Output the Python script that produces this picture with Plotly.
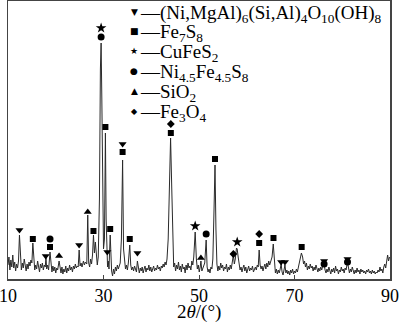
import plotly.graph_objects as go

# ---- XRD scan (2theta in degrees, intensity in arbitrary units) ----
scan_2theta = [
    10.0, 10.2, 10.4, 10.6, 10.8, 11.0, 11.2, 11.4, 11.6, 11.8,
    12.0, 12.2, 12.4, 12.6, 12.8, 13.0, 13.2, 13.4, 13.6, 13.8,
    14.0, 14.2, 14.4, 14.6, 14.8, 15.0, 15.2, 15.4, 15.6, 15.8,
    16.0, 16.2, 16.4, 16.6, 16.8, 17.0, 17.2, 17.4, 17.6, 17.8,
    17.95, 18.1, 18.3, 18.5, 18.8, 19.0, 19.2, 19.4, 19.6, 19.8,
    20.0, 20.2, 20.4, 20.7, 20.9, 21.1, 21.3, 21.5, 21.7, 21.9,
    22.1, 22.3, 22.5, 22.7, 22.9, 23.1, 23.3, 23.5, 23.7, 23.9,
    24.1, 24.3, 24.5, 24.7, 24.9, 25.1, 25.3, 25.5, 25.8, 26.0,
    26.2, 26.5, 26.7, 26.9, 27.1, 27.3, 27.5, 27.7, 27.9, 28.1,
    28.3, 28.5, 28.7, 28.9, 29.15, 29.35, 29.5, 29.65, 29.85, 30.0,
    30.2, 30.4, 30.55, 30.7, 30.85, 31.0, 31.15, 31.4, 31.55, 31.7,
    31.9, 32.1, 32.3, 32.5, 32.7, 32.9, 33.1, 33.3, 33.5, 33.75,
    34.0, 34.2, 34.4, 34.6, 34.8, 35.0, 35.2, 35.5, 35.7, 35.9,
    36.1, 36.3, 36.5, 36.7, 36.9, 37.1, 37.3, 37.5, 37.7, 37.9,
    38.1, 38.3, 38.5, 38.7, 38.9, 39.1, 39.3, 39.5, 39.7, 39.9,
    40.1, 40.3, 40.5, 40.7, 40.9, 41.1, 41.3, 41.5, 41.7, 41.9,
    42.1, 42.3, 42.5, 42.7, 42.9, 43.1, 43.3, 43.55, 43.8, 44.05,
    44.3, 44.5, 44.7, 44.9, 45.1, 45.3, 45.5, 45.7, 45.9, 46.1,
    46.3, 46.5, 46.7, 46.9, 47.1, 47.3, 47.5, 47.7, 47.9, 48.1,
    48.3, 48.5, 48.7, 48.9, 49.2, 49.45, 49.65, 49.85, 50.05, 50.25,
    50.4, 50.6, 50.8, 51.0, 51.2, 51.5, 51.7, 51.9, 52.1, 52.3,
    52.5, 52.7, 52.9, 53.15, 53.35, 53.55, 53.75, 53.95, 54.15, 54.35,
    54.55, 54.75, 54.95, 55.15, 55.35, 55.55, 55.75, 55.95, 56.15, 56.35,
    56.55, 56.75, 56.95, 57.2, 57.4, 57.6, 57.85, 58.0, 58.2, 58.4,
    58.6, 58.8, 59.0, 59.2, 59.4, 59.6, 59.8, 60.0, 60.2, 60.4,
    60.6, 60.8, 61.0, 61.2, 61.4, 61.6, 61.8, 62.0, 62.2, 62.4,
    62.6, 62.8, 63.0, 63.2, 63.4, 63.6, 63.8, 64.0, 64.2, 64.4,
    64.6, 64.8, 65.0, 65.3, 65.55, 65.8, 66.0, 66.2, 66.4, 66.6,
    66.8, 67.0, 67.2, 67.4, 67.6, 67.8, 68.0, 68.2, 68.4, 68.6,
    68.8, 69.0, 69.2, 69.4, 69.6, 69.8, 70.0, 70.2, 70.4, 70.6,
    70.8, 71.0, 71.2, 71.45, 71.7, 71.9, 72.1, 72.3, 72.5, 72.7,
    72.9, 73.1, 73.3, 73.5, 73.7, 73.9, 74.1, 74.3, 74.5, 74.7,
    74.9, 75.1, 75.3, 75.5, 75.7, 75.9, 76.2, 76.4, 76.6, 76.8,
    77.0, 77.2, 77.4, 77.6, 77.8, 78.0, 78.2, 78.4, 78.6, 78.8,
    79.0, 79.2, 79.4, 79.6, 79.8, 80.0, 80.2, 80.4, 80.6, 80.8,
    81.1, 81.3, 81.5, 81.7, 81.9, 82.1, 82.3, 82.5, 82.7, 82.9,
    83.1, 83.3, 83.5, 83.7, 83.9, 84.1, 84.3, 84.5, 84.7, 84.9,
    85.1, 85.3, 85.5, 85.7, 85.9, 86.1, 86.3, 86.5, 86.7, 86.9,
    87.1, 87.3, 87.5, 87.7, 87.9, 88.1, 88.3, 88.5, 88.7, 88.9,
    89.1, 89.3, 89.5, 89.7, 89.9,
]
scan_intensity = [
    14, 22, 9, 19, 12, 24, 11, 17, 8, 15,
    11, 18, 44, 17, 9, 16, 11, 20, 12, 8,
    15, 10, 17, 13, 19, 16, 36, 15, 9, 14,
    10, 18, 12, 7, 15, 11, 16, 9, 14, 12,
    22, 10, 14, 9, 27, 12, 7, 13, 8, 12,
    6, 11, 9, 18, 10, 6, 12, 5, 10, 7,
    13, 6, 11, 8, 14, 9, 12, 7, 13, 10,
    15, 11, 13, 12, 29, 13, 16, 12, 18, 14,
    17, 15, 64, 16, 12, 20, 15, 24, 44, 26,
    37, 18, 14, 22, 80, 210, 236, 180, 60, 30,
    40, 146, 60, 22, 12, 18, 10, 44, 12, 8,
    3, 10, 5, 12, 8, 14, 10, 13, 16, 40,
    119, 30, 15, 10, 14, 9, 16, 34, 14, 9,
    12, 8, 13, 10, 7, 18, 10, 6, 11, 8,
    12, 6, 10, 13, 7, 11, 9, 14, 8, 12,
    7, 10, 13, 8, 11, 9, 14, 10, 12, 8,
    13, 11, 15, 12, 17, 14, 20, 40, 100, 141,
    90, 30, 12, 16, 8, 14, 10, 17, 9, 13,
    7, 15, 10, 12, 6, 14, 9, 16, 11, 13,
    9, 18, 14, 22, 47, 20, 10, 14, 7, 12,
    18, 8, 11, 14, 16, 39, 12, 7, 10, 6,
    12, 10, 20, 70, 114, 50, 15, 8, 13, 9,
    16, 11, 14, 8, 12, 10, 15, 7, 12, 9,
    14, 10, 16, 24, 15, 20, 31, 30, 22, 14,
    9, 12, 7, 11, 14, 8, 12, 6, 10, 13,
    8, 11, 9, 13, 7, 10, 12, 9, 14, 12,
    29, 14, 10, 13, 8, 12, 15, 10, 16, 12,
    18, 14, 17, 22, 35, 14, 6, 10, 5, 9,
    6, 10, 15, 7, 4, 9, 14, 6, 9, 5,
    8, 4, 9, 6, 10, 5, 8, 6, 10, 7,
    12, 14, 20, 26, 22, 15, 18, 12, 16, 9,
    13, 10, 15, 11, 13, 8, 12, 9, 14, 10,
    7, 11, 8, 12, 9, 13, 15, 9, 6, 10,
    7, 12, 8, 5, 10, 7, 11, 6, 13, 8,
    10, 5, 9, 7, 12, 8, 10, 6, 11, 9,
    17, 9, 6, 10, 7, 12, 8, 5, 9, 6,
    11, 7, 9, 5, 10, 7, 9, 6, 8, 5,
    9, 7, 10, 6, 8, 5, 9, 6, 8, 5,
    7, 6, 9, 7, 12, 8, 10, 6, 12, 15,
    11, 20, 24, 18, 22,
]
assert len(scan_2theta) == len(scan_intensity)

# ---- phase markers (2theta, marker height) ----
chlorite_2theta = [12.4, 17.9, 24.9, 30.8, 34.0, 37.1, 67.2, 68.0, 76.2, 81.1]
chlorite_height = [49, 23, 34, 27, 135, 26, 17, 17, 18, 20]
fe7s8_2theta = [15.2, 18.8, 27.9, 30.4, 31.4, 34.0, 35.5, 44.1, 53.35, 62.6, 65.6, 71.5]
fe7s8_height = [40, 32, 48, 152, 50, 127, 40, 146, 120, 36, 41, 32]
cufes2_2theta = [29.5, 49.2, 58.0]
cufes2_height = [251, 53, 37]
pentlandite_2theta = [18.8, 29.5, 51.5, 76.2, 81.1]
pentlandite_height = [40, 242, 45, 15, 17]
sio2_2theta = [20.7, 26.7, 50.4]
sio2_height = [23, 67, 21]
fe3o4_2theta = [44.1, 57.2, 62.6]
fe3o4_height = [155, 25, 45]

phase_symbols = ["triangle-down", "square", "star", "circle", "triangle-up", "diamond"]
phase_sizes = [7, 6, 8, 7, 7, 6]
legend_glyphs = ["▼", "■", "★", "●", "▲", "◆"]
legend_labels = [
    "(Ni,MgAl)<sub>6</sub>(Si,Al)<sub>4</sub>O<sub>10</sub>(OH)<sub>8</sub>",
    "Fe<sub>7</sub>S<sub>8</sub>",
    "CuFeS<sub>2</sub>",
    "Ni<sub>4.5</sub>Fe<sub>4.5</sub>S<sub>8</sub>",
    "SiO<sub>2</sub>",
    "Fe<sub>3</sub>O<sub>4</sub>",
]
x_ticks = [10, 30, 50, 70, 90]

SERIF = "Liberation Serif, Times New Roman, serif"

fig = go.Figure()
fig.add_trace(go.Scatter(x=scan_2theta, y=scan_intensity, mode="lines",
                         line=dict(color="#2a2a2a", width=1), hoverinfo="skip"))

phase_data = [
    (chlorite_2theta, chlorite_height),
    (fe7s8_2theta, fe7s8_height),
    (cufes2_2theta, cufes2_height),
    (pentlandite_2theta, pentlandite_height),
    (sio2_2theta, sio2_height),
    (fe3o4_2theta, fe3o4_height),
]
for (xs, ys), sym, sz in zip(phase_data, phase_symbols, phase_sizes):
    fig.add_trace(go.Scatter(x=xs, y=ys, mode="markers",
                             marker=dict(symbol=sym, size=sz, color="black",
                                         line=dict(width=0))))

# legend as text annotations
W0, W1 = 8, 390
H0, H1 = 1, 279
def px_x(p):
    return (p - W0) / (W1 - W0)
def px_y(p):
    return (H1 - p) / (H1 - H0)

row_y = [12, 31, 51, 71, 91, 111]
for glyph, label, yy in zip(legend_glyphs, legend_labels, row_y):
    fig.add_annotation(xref="paper", yref="paper", x=px_x(134), y=px_y(yy),
                       text=glyph, showarrow=False, xanchor="center", yanchor="middle",
                       borderpad=0,
                       font=dict(family="DejaVu Sans", size=9 if glyph != "◆" else 8, color="black"))
    fig.add_annotation(xref="paper", yref="paper", x=px_x(139), y=px_y(yy + 2),
                       text="—" + label, showarrow=False, xanchor="left", yanchor="middle",
                       borderpad=0,
                       font=dict(family=SERIF, size=19, color="black"))

# axis title as annotation for exact placement
fig.add_annotation(xref="paper", yref="paper", x=px_x(199), y=px_y(312),
                   text="2<i>θ</i>/(°)", showarrow=False, xanchor="center", yanchor="middle",
                   font=dict(family=SERIF, size=19, color="black"))

fig.update_layout(
    width=400, height=324,
    margin=dict(l=W0, r=400 - W1, t=H0, b=324 - H1, autoexpand=False),
    paper_bgcolor="white", plot_bgcolor="white",
    showlegend=False,
    font=dict(family=SERIF, color="black"),
)
fig.update_xaxes(range=[10, 90], tickvals=x_ticks, ticktext=[str(v) for v in x_ticks],
                 ticks="inside", ticklen=4, tickcolor="#444", tickwidth=1,
                 showline=True, linecolor="#444", linewidth=1.5, mirror=True,
                 showgrid=False, zeroline=False, automargin=False,
                 ticklabeloverflow="allow",
                 tickfont=dict(family=SERIF, size=18, color="black"))
fig.update_yaxes(range=[0, 278], showticklabels=False, ticks="",
                 showline=True, linecolor="#444", linewidth=1.5, mirror=True,
                 showgrid=False, zeroline=False, automargin=False)

fig.write_html("out.html", config={"displayModeBar": False, "staticPlot": True},
               post_script="document.body.style.margin='0';document.body.style.overflow='hidden';")
